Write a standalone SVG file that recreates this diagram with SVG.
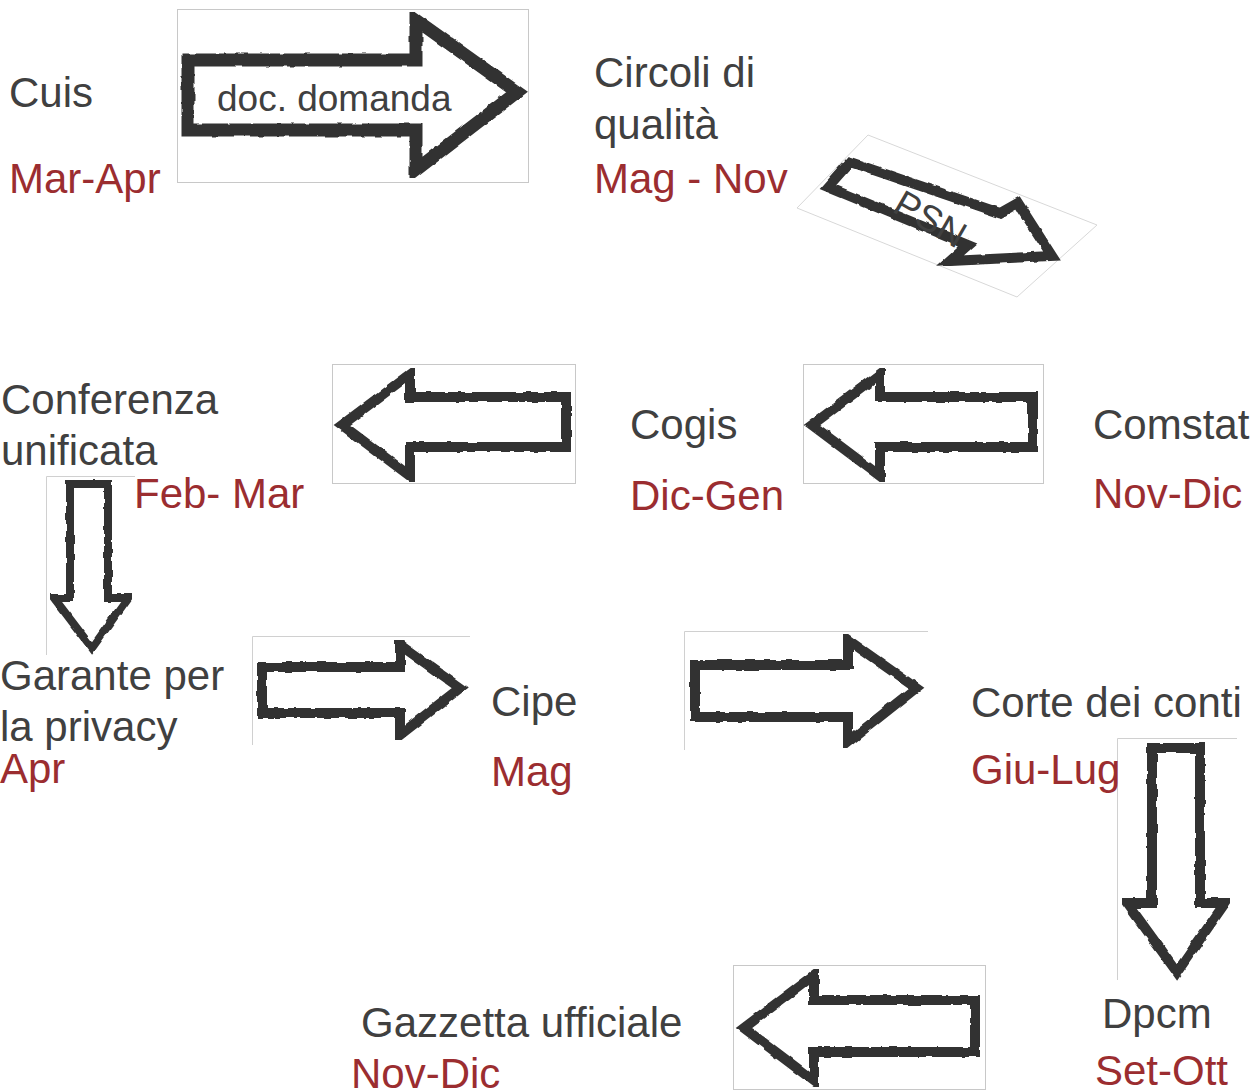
<svg xmlns="http://www.w3.org/2000/svg" width="1256" height="1092" viewBox="0 0 1256 1092">
<defs>
<filter id="rough" x="-5%" y="-5%" width="110%" height="110%">
<feTurbulence type="fractalNoise" baseFrequency="0.09" numOctaves="2" seed="3" result="n"/>
<feDisplacementMap in="SourceGraphic" in2="n" scale="3.5" xChannelSelector="R" yChannelSelector="G"/>
</filter>
</defs>
<style>
.frame{fill:#fff;stroke:#c8c8c8;stroke-width:1}
.edge{fill:none;stroke:#d0d0d0;stroke-width:1}
.arrow{fill:#fff;stroke:#333;stroke-width:10;stroke-linejoin:miter;stroke-miterlimit:10;filter:url(#rough)}
.tail{fill:none;stroke:#333;stroke-width:6;filter:url(#rough)}
.name{font-family:"Liberation Sans",Arial,sans-serif;font-size:42px;fill:#404040}
.date{font-family:"Liberation Sans",Arial,sans-serif;font-size:42px;fill:#9b2d30}
.inner{font-family:"Liberation Sans",Arial,sans-serif;font-size:37px;fill:#404040}
</style>
<rect width="1256" height="1092" fill="#fff"/>

<g id="connectors">
<g id="arrow-cuis-circoli">
<rect class="frame" x="177.5" y="9.5" width="351" height="173"/>
<path class="arrow" style="stroke-width:13" d="M188,60 L416,60 L416,20 L517,92 L416,170 L416,130 L188,130 Z"/>
<path class="tail" d="M186,58 L186,132"/>
<text class="inner" x="217" y="111">doc. domanda</text>
</g>
<g id="arrow-circoli-comstat">
<polygon class="frame" points="797,208 868,135 1097,225 1017,297" style="stroke:#d8d8d8"/>
<path class="arrow" d="M850,162 L1000,213 L1018,203 L1052,256 L950,261 L968,245 L828,187 Z"/>
<text class="inner" transform="translate(924,230) rotate(30)" text-anchor="middle">PSN</text>
</g>
<g id="arrow-comstat-cogis">
<rect class="frame" x="803.5" y="364.5" width="240" height="119"/>
<path class="arrow" d="M812,425 L880,374 L880,397 L1033,397 L1033,447 L880,447 L880,476 Z"/>
<path class="tail" d="M1035,395 L1035,449"/>
</g>
<g id="arrow-cogis-conferenza">
<rect class="frame" x="332.5" y="364.5" width="243" height="119"/>
<path class="arrow" d="M342,425 L410,374 L410,397 L566,397 L566,447 L410,447 L410,476 Z"/>
<path class="tail" d="M568,395 L568,449"/>
</g>
<g id="arrow-conferenza-garante">
<path class="edge" d="M46.5,655 L46.5,476.5 L135,476.5"/>
<path class="arrow" style="stroke-width:8" d="M70,484 L108,484 L108,598 L128,598 L92,648 L54,598 L70,598 Z"/>
<path class="tail" style="stroke-width:8" d="M68,482 L110,482"/>
</g>
<g id="arrow-garante-cipe">
<path class="edge" d="M252.5,745 L252.5,636.5 L470,636.5"/>
<path class="arrow" d="M262,667 L400,667 L400,645 L460,688 L400,735 L400,713 L262,713 Z"/>
<path class="tail" d="M260,665 L260,715"/>
</g>
<g id="arrow-cipe-corte">
<path class="edge" d="M684.5,750 L684.5,631.5 L928,631.5"/>
<path class="arrow" d="M695,665 L848,665 L848,640 L916,688 L848,742 L848,717 L695,717 Z"/>
<path class="tail" d="M693,663 L693,719"/>
</g>
<g id="arrow-corte-dpcm">
<path class="edge" d="M1117.5,980 L1117.5,738.5 L1237,738.5"/>
<path class="arrow" d="M1152,748 L1200,748 L1200,903 L1225,903 L1177,972 L1127,903 L1152,903 Z"/>
<path class="tail" style="stroke-width:8" d="M1150,746 L1202,746"/>
</g>
<g id="arrow-dpcm-gazzetta">
<rect class="frame" x="733.5" y="965.5" width="252" height="124"/>
<path class="arrow" d="M744,1028 L814,975 L814,1000 L975,1000 L975,1052 L814,1052 L814,1081 Z"/>
<path class="tail" d="M977,998 L977,1054"/>
</g>
</g>

<g id="node-cuis">
<text class="name" x="9" y="107">Cuis</text>
<text class="date" x="9" y="193">Mar-Apr</text>
</g>
<g id="node-circoli">
<text class="name" x="594" y="87">Circoli di</text>
<text class="name" x="594" y="139">qualità</text>
<text class="date" x="594" y="193">Mag - Nov</text>
</g>
<g id="node-comstat">
<text class="name" x="1093" y="439">Comstat</text>
<text class="date" x="1093" y="508">Nov-Dic</text>
</g>
<g id="node-cogis">
<text class="name" x="630" y="439">Cogis</text>
<text class="date" x="630" y="510">Dic-Gen</text>
</g>
<g id="node-conferenza">
<text class="name" x="1" y="414">Conferenza</text>
<text class="name" x="1" y="465">unificata</text>
<text class="date" x="134" y="508">Feb- Mar</text>
</g>
<g id="node-garante">
<text class="name" x="0" y="690">Garante per</text>
<text class="name" x="0" y="741">la privacy</text>
<text class="date" x="0" y="783">Apr</text>
</g>
<g id="node-cipe">
<text class="name" x="491" y="716">Cipe</text>
<text class="date" x="491" y="786">Mag</text>
</g>
<g id="node-corte">
<text class="name" x="971" y="717">Corte dei conti</text>
<text class="date" x="971" y="784">Giu-Lug</text>
</g>
<g id="node-dpcm">
<text class="name" x="1102" y="1028">Dpcm</text>
<text class="date" x="1095" y="1085">Set-Ott</text>
</g>
<g id="node-gazzetta">
<text class="name" x="361" y="1037">Gazzetta ufficiale</text>
<text class="date" x="351" y="1088">Nov-Dic</text>
</g>
</svg>
